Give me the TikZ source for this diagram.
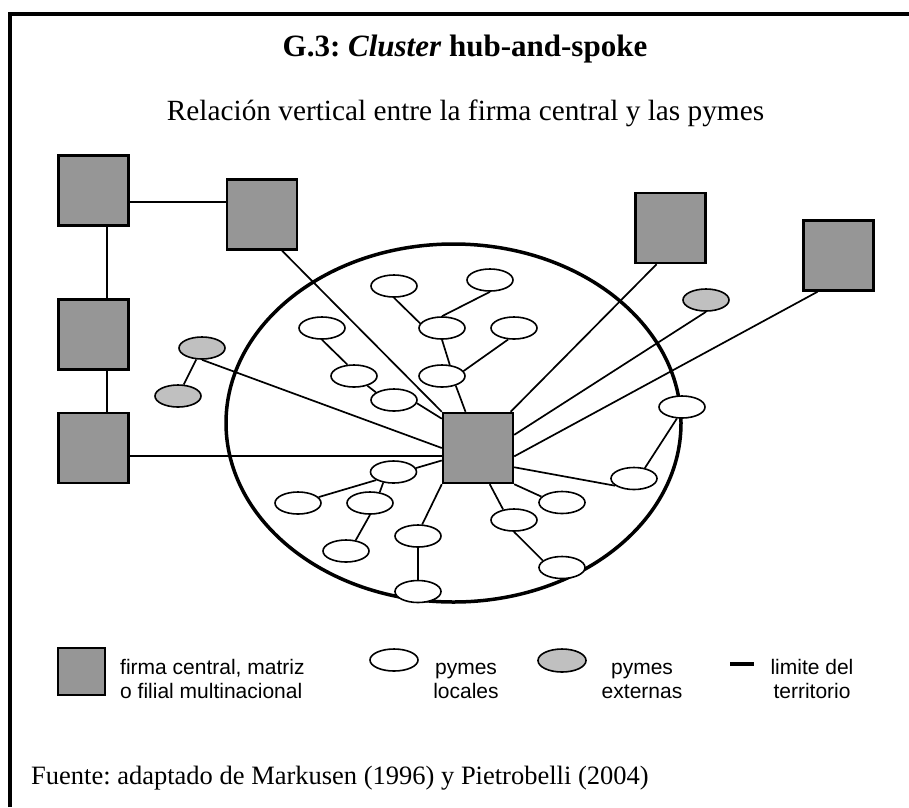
\documentclass[tikz,border=0pt]{standalone}
\usepackage{fontspec}
\setmainfont{Liberation Serif}
\newfontfamily\arialf{Liberation Sans}
\usetikzlibrary{shapes.geometric}
\definecolor{boxgray}{RGB}{150,150,150}
\definecolor{extgray}{RGB}{192,192,192}
\frenchspacing
\tikzset{
  firm/.style={draw, fill=boxgray, line width=2.4pt, minimum width=70pt, minimum height=70pt, inner sep=0pt},
  loc/.style={draw, ellipse, fill=white, line width=1.6pt, minimum width=46pt, minimum height=22pt, inner sep=0pt},
  ext/.style={loc, fill=extgray},
  link/.style={line width=1.7pt},
  legtext/.style={font=\arialf\fontsize{21}{24}\selectfont, inner sep=0pt},
}
\begin{document}
\begin{tikzpicture}[x=1pt,y=-1pt]
\useasboundingbox (0,0) rectangle (909,807);
% frame
\draw[line width=3.5pt] (10,807) -- (10,14) -- (909,14);
% titles
\node[anchor=base, inner sep=0pt, font=\fontsize{31}{36}\selectfont] (title) at (465,56) {\textbf{G.3: \textit{Cluster} hub-and-spoke}};
\node[anchor=base, inner sep=0pt, font=\fontsize{29.3}{34}\selectfont] (sub) at (465.5,120) {Relación vertical entre la firma central y las pymes};
% territory
\node[draw, ellipse, line width=3.5pt, minimum width=455pt, minimum height=358pt, inner sep=0pt] (terr) at (453.5,423) {};
% firms
\node[firm] (A) at (93.5,190.5) {};
\node[firm] (B) at (262,214.5) {};
\node[firm] (C) at (93.5,334.5) {};
\node[firm] (D) at (93.5,448) {};
\node[firm] (E) at (670.5,228) {};
\node[firm] (F) at (838.5,255.5) {};
\node[firm] (hub) at (478,448) {};
% local smes
\node[loc] (e1) at (394,286) {};
\node[loc] (e2) at (490,280) {};
\node[loc] (e3) at (442,328) {};
\node[loc] (e4) at (322,328) {};
\node[loc] (e5) at (514,328) {};
\node[loc] (e6) at (354,376) {};
\node[loc] (e7) at (394,400) {};
\node[loc] (e8) at (442,376) {};
\node[loc] (e9) at (682,407) {};
\node[loc] (e10) at (634,478.5) {};
\node[loc] (e11) at (393.5,472) {};
\node[loc] (e12) at (298,503) {};
\node[loc] (e13) at (370,503) {};
\node[loc] (e14) at (346,551) {};
\node[loc] (e15) at (418,536) {};
\node[loc] (e16) at (418,591.5) {};
\node[loc] (e17) at (514,520) {};
\node[loc] (e18) at (562,567.5) {};
\node[loc] (e19) at (562,502.5) {};
% external smes
\node[ext] (g1) at (202,348) {};
\node[ext] (g2) at (178,396) {};
\node[ext] (g3) at (706,300) {};
% connectors between firms
\draw[link] (B.161) -- (B.161 -| A.east);
\draw[link] (A.-70) -- (C.70);
\draw[link] (C.-70) -- (D.70);
\draw[link] (D.-12) -- (D.-12 -| hub.west);
\draw[link] (B.-61) -- (hub.north west);
\draw[link] (E.-111) -- (hub.48);
\draw[link] (F.-120) -- (hub.-13);
% external
\draw[link] (g1) -- (g2);
\draw[link] (g1.south) -- (hub.west);
\draw[link] (g3.south) -- (hub.20);
% upper tree
\draw[link] (e1.south) -- (e3.168);
\draw[link] (e2.south) -- (e3.north);
\draw[link] (e3.south) -- (e8.55);
\draw[link] (e5.-117) -- (e8.13);
\draw[link] (e8.-35) -- (hub.109);
\draw[link] (e4.south) -- (e6.120);
\draw[link] (e6.-36) -- (e7.157);
\draw[link] (e7.-8) -- (hub.141);
% right
\draw[link] (e9.-114) -- (e10.44);
\draw[link] (e10.-159) -- (hub.-28);
\draw[link] (e19.164) -- (hub.south east);
% lower
\draw[link] (e17.136) -- (hub.-72);
\draw[link] (e17.south) -- (e18.160);
\draw[link] (e15.70) -- (hub.south west);
\draw[link] (e15.south) -- (e16.north);
\draw[link] (e11.10) -- (hub.-161);
\draw[link] (e11.-155) -- (e12.16);
\draw[link] (e11.-134) -- (e13.48);
\draw[link] (e13.south) -- (e14.48);
% legend
\node[firm, minimum width=47pt, minimum height=47pt] (lfirm) at (81.5,671.5) {};
\node[legtext, anchor=base west, align=left] (lfirmt) at (120,698) {firma central, matriz\\o filial multinacional};
\node[loc, minimum width=48pt] (lloc) at (394,660) {};
\node[legtext, anchor=base, align=center] (lloct) at (466,698) {pymes\\locales};
\node[ext, minimum width=48pt, minimum height=23pt] (lext) at (562,660.5) {};
\node[legtext, anchor=base, align=center] (lextt) at (642,698) {pymes\\externas};
\coordinate (lim1) at (730,664);
\coordinate (lim2) at (754,664);
\draw[line width=3.2pt] (lim1) -- (lim2);
\node[legtext, anchor=base, align=center] (limt) at (812,698) {limite del\\territorio};
% source
\node[anchor=base west, inner sep=0pt, font=\fontsize{26.5}{30}\selectfont] (src) at (31,784) {Fuente: adaptado de Markusen (1996) y Pietrobelli (2004)};
\end{tikzpicture}
\end{document}
